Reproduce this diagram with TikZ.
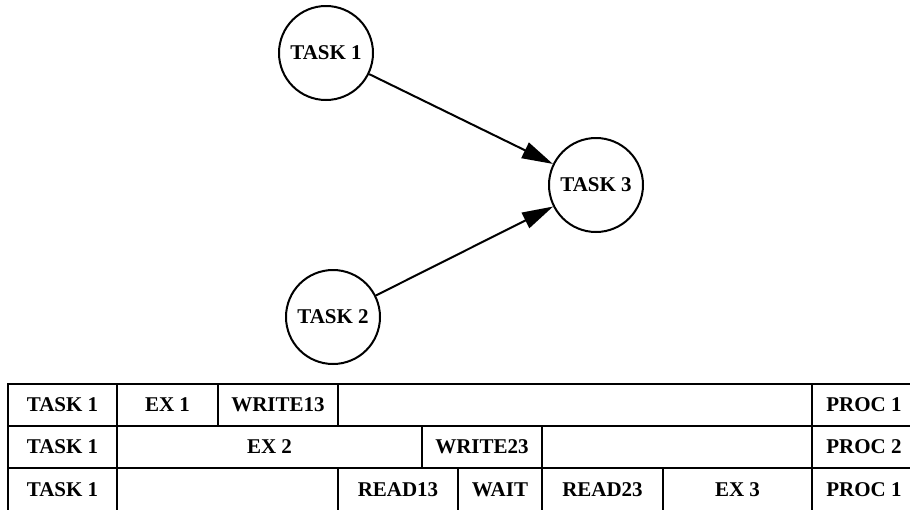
\documentclass[tikz,border=0pt]{standalone}
\usepackage{fontspec}
\setmainfont{Liberation Serif}
\usetikzlibrary{positioning,arrows.meta}

\begin{document}
\begin{tikzpicture}[x=1pt,y=1pt]
    \tikzstyle{every node}=[font=\fontsize{21}{24}\selectfont\bfseries]
    \tikzstyle{task}=[circle,draw,line width=2,minimum size=94,inner sep=0]
    \tikzstyle{dep}=[line width=2,-{Triangle[length=31pt,width=17pt]}]
    \tikzstyle{cell}=[rectangle,draw,line width=2,minimum height=42,inner sep=0]
    \useasboundingbox (0,0) rectangle (910,-509);

    % task graph
    \node[task] (t1) at (326,-53) {TASK 1};
    \node[task] (t2) at (333,-317) {TASK 2};
    \node[task] (t3) at (596,-185) {TASK 3};
    \draw[dep] (t1) -- (t3);
    \draw[dep] (t2) -- (t3);

    % schedule rows
    \foreach \xa/\xb/\txt [count=\i] in {8/117/TASK 1,117/218/EX 1,218/338/WRITE13,338/812/{},812/916/PROC 1} {
        \node[cell,minimum width=\xb-\xa] (a\i) at ({(\xa+\xb)/2},-405) {\txt};
    }
    \foreach \xa/\xb/\txt [count=\i] in {8/117/TASK 1,117/422/EX 2,422/542/WRITE23,542/812/{},812/916/PROC 2} {
        \node[cell,minimum width=\xb-\xa] (b\i) at ({(\xa+\xb)/2},-446.5) {\txt};
    }
    \foreach \xa/\xb/\txt [count=\i] in {8/117/TASK 1,117/338/{},338/458/READ13,458/542/WAIT,542/663/READ23,663/812/EX 3,812/916/PROC 1} {
        \node[cell,minimum width=\xb-\xa,minimum height=48] (c\i) at ({(\xa+\xb)/2},-491.5) {\raisebox{3pt}{\txt}};
    }
\end{tikzpicture}
\end{document}
